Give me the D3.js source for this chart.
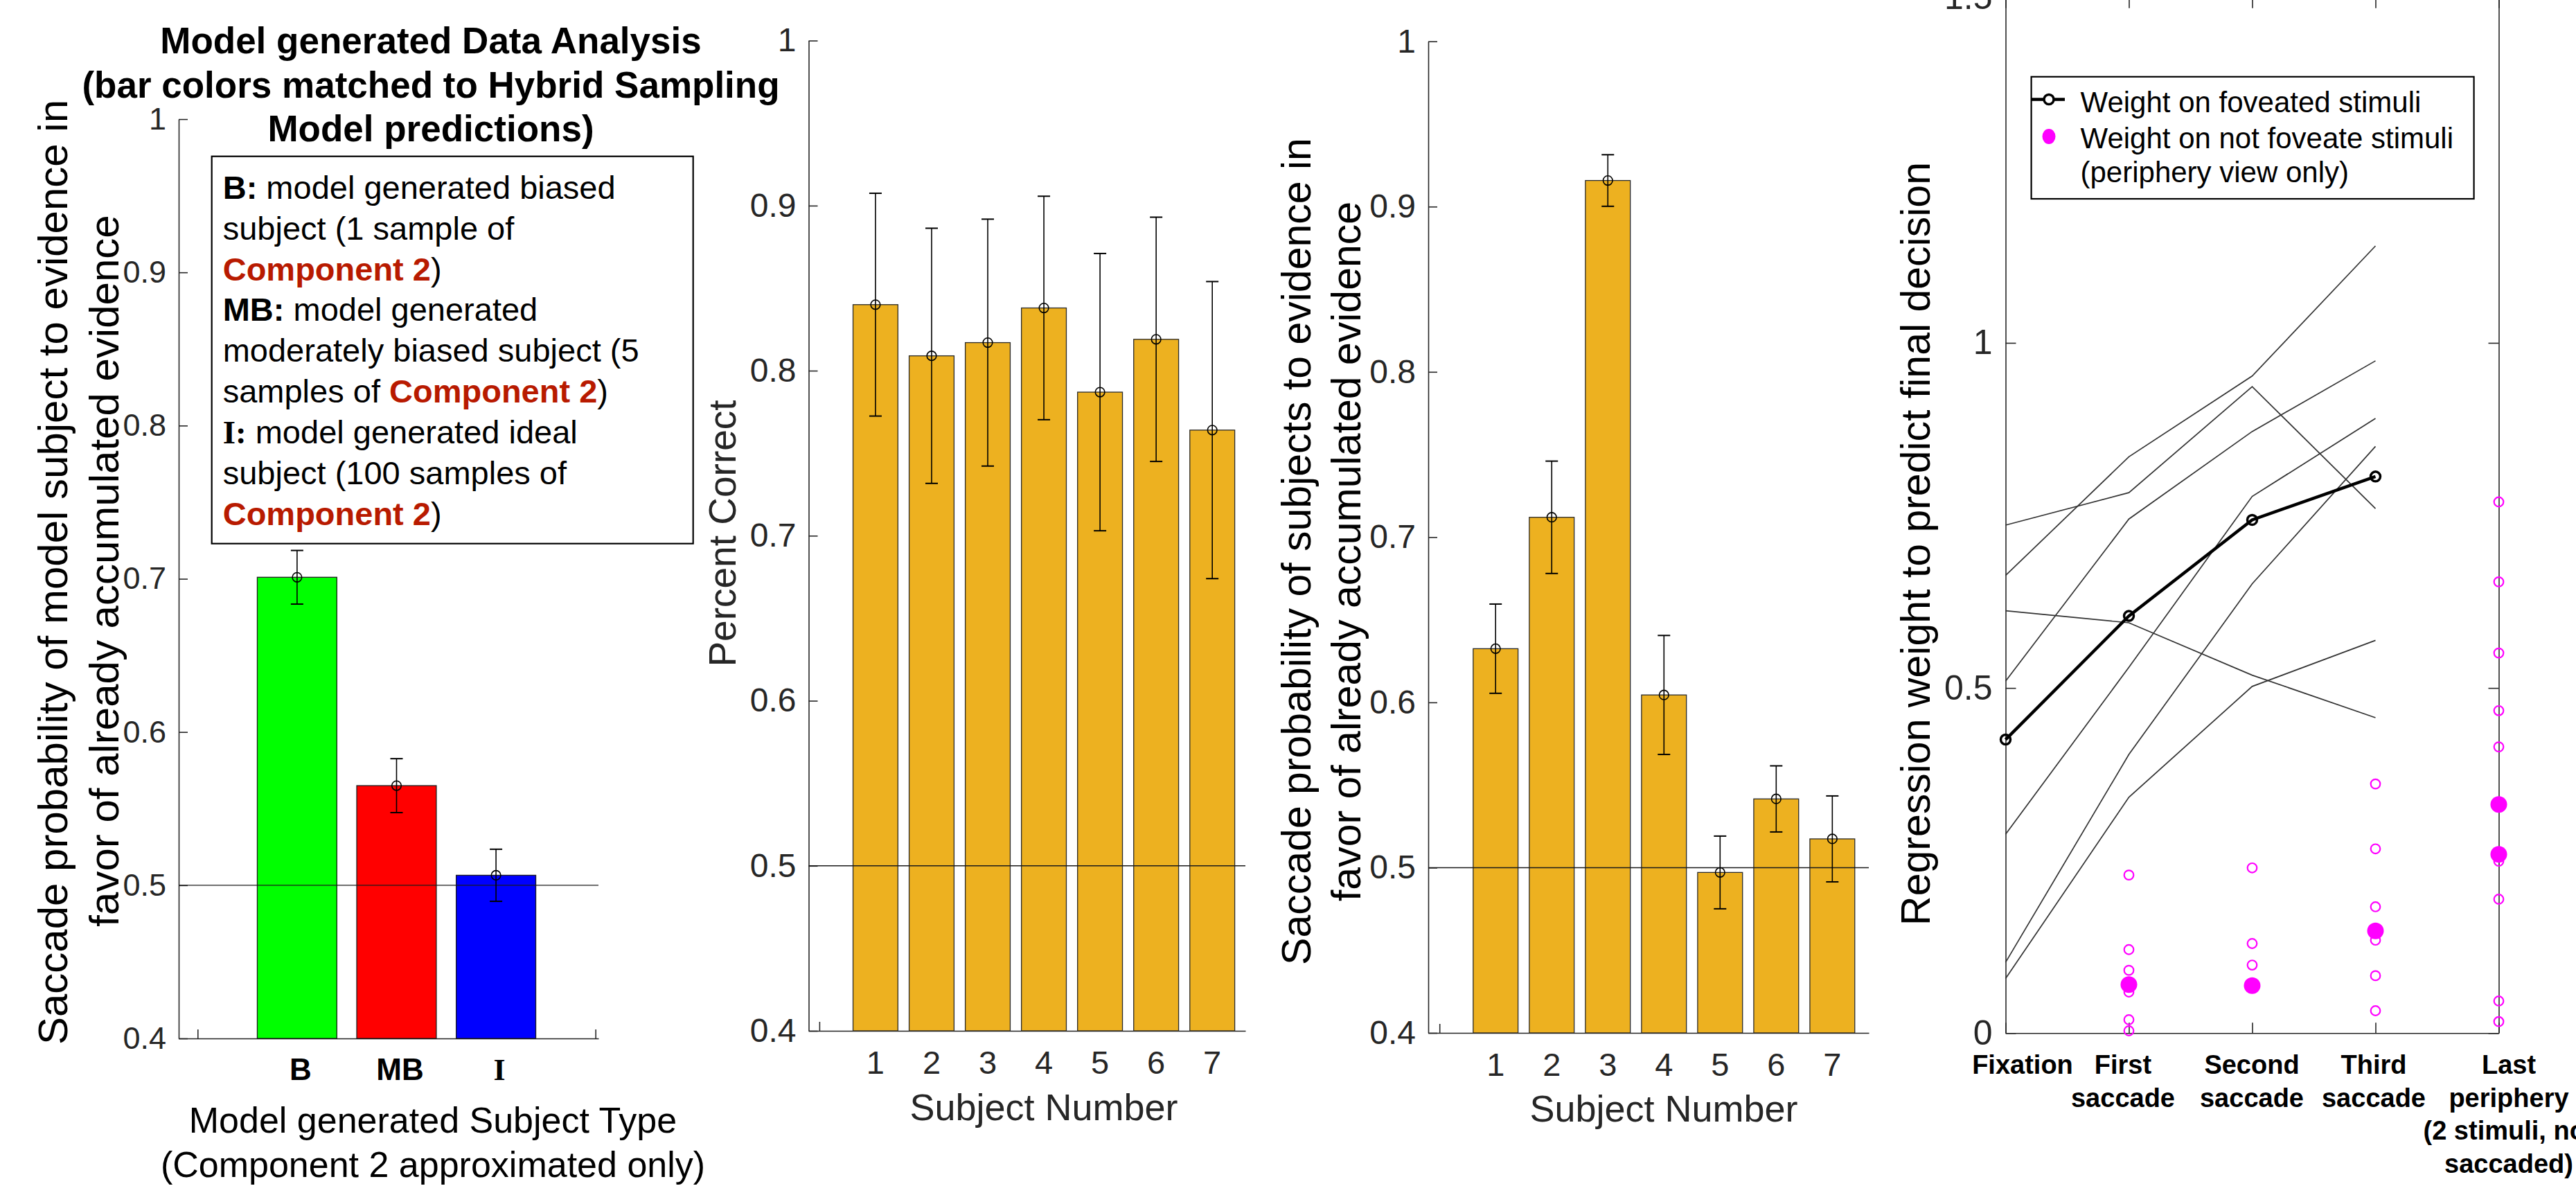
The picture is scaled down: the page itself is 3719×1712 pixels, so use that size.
<!DOCTYPE html>
<html>
<head>
<meta charset="utf-8">
<script src="https://cdn.jsdelivr.net/npm/d3@7"></script>
<style>
  html, body { margin: 0; padding: 0; background: #fff; }
  svg { display: block; }
</style>
</head>
<body>
<script>
// ---------- data ----------
// Panel 1: model generated subjects
const modelTypes = ["B", "MB", "I"];
const modelMeans = [0.701, 0.565, 0.5065];
const modelErrors = [0.0175, 0.0176, 0.017];
const modelColors = ["#00ff00", "#ff0000", "#0000ff"];

// Panel 2: percent correct per subject
const subjects = [1, 2, 3, 4, 5, 6, 7];
const percentCorrect = [0.840, 0.809, 0.817, 0.838, 0.787, 0.819, 0.764];
const percentCorrectErr = [0.0675, 0.0773, 0.0748, 0.0677, 0.084, 0.074, 0.090];

// Panel 3: saccade probability per subject
const saccadeProb = [0.6325, 0.712, 0.9158, 0.6045, 0.4971, 0.5416, 0.5174];
const saccadeProbErr = [0.027, 0.034, 0.0156, 0.036, 0.022, 0.020, 0.026];

// Panel 4: regression weights
const stageLabels = [
  ["Fixation"],
  ["First", "saccade"],
  ["Second", "saccade"],
  ["Third", "saccade"],
  ["Last", "periphery", "(2 stimuli, not", "saccaded)"]
];
const subjectWeights = [
  [0.736, 0.783, 0.9366, 0.760],
  [0.663, 0.835, 0.952, 1.1405],
  [0.612, 0.5945, 0.5186, 0.457],
  [0.510, 0.7448, 0.8716, 0.974],
  [0.288, 0.530, 0.7776, 0.8905],
  [0.1025, 0.4037, 0.651, 0.850],
  [0.079, 0.3418, 0.5023, 0.569]
];
const meanWeights = [0.4253, 0.6044, 0.7436, 0.8064];
const peripheryWeights = [
  [],
  [0.229, 0.121, 0.091, 0.0595, 0.0194, 0.0033],
  [0.2394, 0.1298, 0.0986],
  [0.361, 0.267, 0.183, 0.1346, 0.0832, 0.0324],
  [0.7696, 0.6538, 0.5507, 0.4672, 0.4147, 0.249, 0.194, 0.0465, 0.0167]
];
const peripheryCenters = [[], [0.0702], [0.0688], [0.148], [0.3313, 0.2589]];

// ---------- setup ----------
const W = 3719, H = 1712;
const SANS = "'Liberation Sans', Arial, Helvetica, sans-serif";
const SERIF = "'Liberation Serif', 'Times New Roman', serif";
const AXC = "#262626";
const svg = d3.select("body").append("svg")
  .attr("width", W).attr("height", H)
  .style("font-family", SANS);

function styleAxis(g, fontSize) {
  g.attr("font-size", null).attr("font-family", null).attr("color", AXC);
  g.selectAll("path.domain").attr("stroke-width", 1.6);
  g.selectAll(".tick line").attr("stroke-width", 1.6);
  g.selectAll(".tick text").attr("font-size", fontSize).attr("fill", AXC);
}

function yAxisLeft(x0, y, ticks, fontSize, tickLen) {
  const g = svg.append("g").attr("transform", `translate(${x0},0)`)
    .call(d3.axisLeft(y).tickValues(ticks).tickFormat(d3.format("~g"))
      .tickSize(-tickLen).tickSizeOuter(0).tickPadding(18));
  styleAxis(g, fontSize);
  return g;
}

function xAxisBottom(y0, x, ticks, tickLen) {
  const g = svg.append("g").attr("transform", `translate(0,${y0})`)
    .call(d3.axisBottom(x).tickValues(ticks).tickFormat("")
      .tickSize(-tickLen).tickSizeOuter(0));
  styleAxis(g, 10);
  return g;
}

function errorBars(x, y, means, errs, cap, r) {
  const g = svg.append("g").attr("stroke", "#000").attr("stroke-width", 1.6).attr("fill", "none");
  means.forEach((m, i) => {
    const cx = x(i + 1);
    g.append("line").attr("x1", cx).attr("x2", cx).attr("y1", y(m - errs[i])).attr("y2", y(m + errs[i]));
    g.append("line").attr("x1", cx - cap / 2).attr("x2", cx + cap / 2).attr("y1", y(m + errs[i])).attr("y2", y(m + errs[i])).attr("stroke-width", 2);
    g.append("line").attr("x1", cx - cap / 2).attr("x2", cx + cap / 2).attr("y1", y(m - errs[i])).attr("y2", y(m - errs[i])).attr("stroke-width", 2);
    g.append("circle").attr("cx", cx).attr("cy", y(m)).attr("r", r);
  });
}

function rotatedLabel(x, y, text, size, color) {
  svg.append("text")
    .attr("transform", `translate(${x},${y}) rotate(-90)`)
    .attr("text-anchor", "middle")
    .attr("font-size", size)
    .attr("fill", color || "#000")
    .text(text);
}

function halfLine(x, y) {
  svg.append("line")
    .attr("x1", x.range()[0]).attr("x2", x.range()[1])
    .attr("y1", y(0.5)).attr("y2", y(0.5))
    .attr("stroke", "#1a1a1a").attr("stroke-width", 1.4);
}

// ---------- Panel 1: model generated subjects ----------
{
  const x = d3.scaleLinear([-0.19, 4.03], [258, 864]);
  const y = d3.scaleLinear([0.4, 1], [1499, 172]);
  const bw = x(0.8) - x(0);

  yAxisLeft(258, y, [0.4, 0.5, 0.6, 0.7, 0.8, 0.9, 1], 45, 13);
  xAxisBottom(1499, x, [0, 4], 13);

  svg.append("g").selectAll("rect").data(modelMeans).join("rect")
    .attr("x", (d, i) => x(i + 1) - bw / 2)
    .attr("width", bw)
    .attr("y", d => y(d))
    .attr("height", d => y(0.4) - y(d))
    .attr("fill", (d, i) => modelColors[i])
    .attr("stroke", "#1a1a1a").attr("stroke-width", 1.3);

  halfLine(x, y);
  errorBars(x, y, modelMeans, modelErrors, 18, 6.8);

  // category labels
  svg.append("g").selectAll("text").data(modelTypes).join("text")
    .attr("x", (d, i) => x(i + 1) + 5)
    .attr("y", 1559)
    .attr("text-anchor", "middle")
    .attr("font-size", 44).attr("font-weight", "bold")
    .attr("font-family", d => d === "I" ? SERIF : SANS)
    .text(d => d);

  // title
  const titleLines = ["Model generated Data Analysis", "(bar colors matched to Hybrid Sampling", "Model predictions)"];
  svg.append("g").selectAll("text").data(titleLines).join("text")
    .attr("x", 622).attr("y", (d, i) => 77 + i * 63.5)
    .attr("text-anchor", "middle")
    .attr("font-size", 53).attr("font-weight", "bold")
    .text(d => d);

  // legend box with rich text
  svg.append("rect").attr("x", 305.7).attr("y", 225.7).attr("width", 695).attr("height", 559)
    .attr("fill", "#fff").attr("stroke", "#000").attr("stroke-width", 2.2);
  const RED = "#b81a00";
  const legendLines = [
    [["B:", "b"], [" model generated biased", "n"]],
    [["subject (1 sample of", "n"]],
    [["Component 2", "r"], [")", "n"]],
    [["MB:", "b"], [" model generated", "n"]],
    [["moderately biased subject (5", "n"]],
    [["samples of ", "n"], ["Component 2", "r"], [")", "n"]],
    [["I:", "s"], [" model generated ideal", "n"]],
    [["subject (100 samples of", "n"]],
    [["Component 2", "r"], [")", "n"]]
  ];
  const lg = svg.append("g").attr("font-size", 47);
  legendLines.forEach((parts, i) => {
    const t = lg.append("text").attr("x", 321.7).attr("y", 286.7 + i * 58.9);
    parts.forEach(([s, k]) => {
      const ts = t.append("tspan").text(s);
      if (k !== "n") ts.attr("font-weight", "bold");
      if (k === "r") ts.attr("fill", RED);
      if (k === "s") ts.attr("font-family", SERIF);
    });
  });

  rotatedLabel(97, 826, "Saccade probability of model subject to evidence in", 60);
  rotatedLabel(171, 824, "favor of already accumulated evidence", 60);

  svg.append("text").attr("x", 625).attr("y", 1635).attr("text-anchor", "middle")
    .attr("font-size", 52).text("Model generated Subject Type");
  svg.append("text").attr("x", 625).attr("y", 1699).attr("text-anchor", "middle")
    .attr("font-size", 52).text("(Component 2 approximated only)");
}

// ---------- Panels 2 & 3: per-subject bars ----------
function subjectPanel(x, y, means, errs, axisY) {
  const bw = x(0.8) - x(0);
  yAxisLeft(x.range()[0], y, [0.4, 0.5, 0.6, 0.7, 0.8, 0.9, 1], 48, 13);
  xAxisBottom(axisY, x, [0], 13);
  svg.append("g").selectAll("rect").data(means).join("rect")
    .attr("x", (d, i) => x(subjects[i]) - bw / 2)
    .attr("width", bw)
    .attr("y", d => y(d))
    .attr("height", d => y(0.4) - y(d))
    .attr("fill", "#edb120")
    .attr("stroke", "#2a2a2a").attr("stroke-width", 1.3);
  halfLine(x, y);
  errorBars(x, y, means, errs, 18, 6.8);
  svg.append("g").selectAll("text").data(subjects).join("text")
    .attr("x", d => x(d)).attr("y", axisY + 62)
    .attr("text-anchor", "middle")
    .attr("font-size", 47).attr("fill", AXC)
    .text(d => d);
}

{
  const x = d3.scaleLinear([-0.19, 7.59], [1167.5, 1798]);
  const y = d3.scaleLinear([0.4, 1], [1488, 58.6]);
  subjectPanel(x, y, percentCorrect, percentCorrectErr, 1488);
  rotatedLabel(1062, 770, "Percent Correct", 55, AXC);
  svg.append("text").attr("x", 1507).attr("y", 1617).attr("text-anchor", "middle")
    .attr("font-size", 54).attr("fill", AXC).text("Subject Number");
}

{
  const x = d3.scaleLinear([-0.2, 7.65], [2062, 2698]);
  const y = d3.scaleLinear([0.4, 1], [1491, 59.7]);
  subjectPanel(x, y, saccadeProb, saccadeProbErr, 1491);
  rotatedLabel(1892, 796, "Saccade probability of subjects to evidence in", 59);
  rotatedLabel(1964, 796, "favor of already accumulated evidence", 59);
  svg.append("text").attr("x", 2402).attr("y", 1619).attr("text-anchor", "middle")
    .attr("font-size", 54).attr("fill", AXC).text("Subject Number");
}

// ---------- Panel 4: regression weights ----------
{
  const x = d3.scaleLinear([1, 5], [2895.5, 3607.5]);
  const y = d3.scaleLinear([0, 1.5], [1491.3, -3.2]);

  const gl = svg.append("g").attr("transform", "translate(2895.5,0)")
    .call(d3.axisLeft(y).tickValues([0, 0.5, 1, 1.5]).tickFormat(d3.format("~g"))
      .tickSize(-15).tickSizeOuter(0).tickPadding(19));
  styleAxis(gl, 50);
  const gr = svg.append("g").attr("transform", "translate(3607.5,0)")
    .call(d3.axisRight(y).tickValues([0, 0.5, 1, 1.5]).tickFormat("")
      .tickSize(-15).tickSizeOuter(0));
  styleAxis(gr, 10);
  const gb = svg.append("g").attr("transform", `translate(0,${y(0)})`)
    .call(d3.axisBottom(x).tickValues([1, 2, 3, 4, 5]).tickFormat("")
      .tickSize(-15).tickSizeOuter(0));
  styleAxis(gb, 10);
  const gt = svg.append("g").attr("transform", `translate(0,${y(1.5)})`)
    .call(d3.axisTop(x).tickValues([1, 2, 3, 4, 5]).tickFormat("")
      .tickSize(-15).tickSizeOuter(0));
  styleAxis(gt, 10);

  const line = d3.line().x((d, i) => x(i + 1)).y(d => y(d));
  svg.append("g").selectAll("path").data(subjectWeights).join("path")
    .attr("d", line).attr("fill", "none")
    .attr("stroke", "#333").attr("stroke-width", 1.7);

  svg.append("path").datum(meanWeights).attr("d", line)
    .attr("fill", "none").attr("stroke", "#000").attr("stroke-width", 4.5);
  svg.append("g").selectAll("circle").data(meanWeights).join("circle")
    .attr("cx", (d, i) => x(i + 1)).attr("cy", d => y(d)).attr("r", 7)
    .attr("fill", "none").attr("stroke", "#000").attr("stroke-width", 3.5);

  const pg = svg.append("g");
  peripheryWeights.forEach((vals, s) => {
    vals.forEach(v => {
      pg.append("circle").attr("cx", x(s + 1)).attr("cy", y(v)).attr("r", 6.8)
        .attr("fill", "none").attr("stroke", "#ff00ff").attr("stroke-width", 2.2);
    });
  });
  peripheryCenters.forEach((vals, s) => {
    vals.forEach(v => {
      pg.append("circle").attr("cx", x(s + 1)).attr("cy", y(v)).attr("r", 12)
        .attr("fill", "#ff00ff");
    });
  });

  // stage labels
  const labelCenters = [2920, 3065, 3251, 3427, 3622];
  stageLabels.forEach((lines, s) => {
    lines.forEach((t, k) => {
      svg.append("text").attr("x", labelCenters[s]).attr("y", 1550 + k * 47.7)
        .attr("text-anchor", "middle").attr("font-size", 38).attr("font-weight", "bold")
        .text(t);
    });
  });

  // legend
  svg.append("rect").attr("x", 2932.6).attr("y", 110.8).attr("width", 639).attr("height", 176.2)
    .attr("fill", "#fff").attr("stroke", "#000").attr("stroke-width", 2.2);
  svg.append("line").attr("x1", 2933).attr("x2", 2981).attr("y1", 143.5).attr("y2", 143.5)
    .attr("stroke", "#000").attr("stroke-width", 4.5);
  svg.append("circle").attr("cx", 2958).attr("cy", 143.5).attr("r", 7)
    .attr("fill", "#fff").attr("stroke", "#000").attr("stroke-width", 3.5);
  svg.append("ellipse").attr("cx", 2958).attr("cy", 197).attr("rx", 9.5).attr("ry", 11)
    .attr("fill", "#ff00ff");
  const legendText = ["Weight on foveated stimuli", "Weight on not foveate stimuli", "(periphery view only)"];
  svg.append("g").selectAll("text").data(legendText).join("text")
    .attr("x", 3003.5).attr("y", (d, i) => [162, 213.5, 263][i])
    .attr("font-size", 42).text(d => d);

  rotatedLabel(2786, 785, "Regression weight to predict final decision", 59);
}
</script>
</body>
</html>
